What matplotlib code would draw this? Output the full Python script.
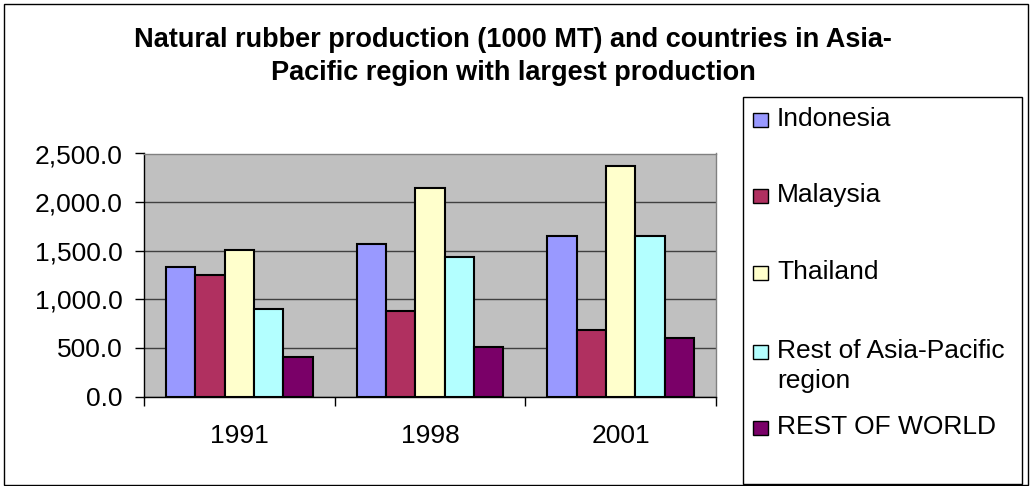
import matplotlib
matplotlib.use('Agg')
import numpy as np
import matplotlib.pyplot as plt
from matplotlib.patches import Rectangle

# ============================= Chart data ===============================
years = ['1991', '1998', '2001']
series_names = ['Indonesia', 'Malaysia', 'Thailand',
                'Rest of Asia-Pacific\nregion', 'REST OF WORLD']
indonesia = [1335, 1570, 1655]
malaysia = [1250, 880, 685]
thailand = [1505, 2150, 2370]
rest_asia_pacific = [900, 1437, 1652]
rest_of_world = [405, 510, 600]
yticks = [0, 500, 1000, 1500, 2000, 2500]

values = [indonesia, malaysia, thailand, rest_asia_pacific, rest_of_world]
colors = ['#9999FF', '#B03060', '#FFFFCC', '#B3FFFF', '#7A0068']

plt.rcParams['font.family'] = ['Liberation Sans', 'DejaVu Sans']

W, H = 1032, 486
fig = plt.figure(figsize=(W / 100, H / 100), dpi=100)

# plot area in pixel coords
left, right, top, bottom = 144, 716, 153.5, 396.5
ax = fig.add_axes([left / W, 1 - bottom / H, (right - left) / W, (bottom - top) / H])
ax.set_facecolor('#C0C0C0')

x = np.arange(len(years))
bar_w = 0.154
for i, (vals, col) in enumerate(zip(values, colors)):
    ax.bar(x + (i - 2) * bar_w, vals, width=bar_w, color=col,
           edgecolor='black', linewidth=1.5, zorder=3)

ax.set_xlim(-0.5, 2.5)
ax.set_ylim(0, 2500)
ax.set_yticks(yticks)
ax.set_yticklabels([f'{v:,.1f}' for v in yticks])
ax.yaxis.grid(True, color='#404040', linewidth=1, zorder=1)

ax.set_xticks(x)
ax.set_xticklabels(years)
ax.set_xticks([-0.5, 0.5, 1.5, 2.5], minor=True)
ax.tick_params(axis='x', which='major', length=0, pad=20, labelsize=19)
ax.tick_params(axis='x', which='minor', length=6.5, width=1, direction='out')
ax.tick_params(axis='y', length=6.5, width=1, pad=9, labelsize=19)

ax.spines['left'].set_color('black')
ax.spines['bottom'].set_color('black')
ax.spines['top'].set_color('#808080')
ax.spines['right'].set_color('#808080')
for sp in ax.spines.values():
    sp.set_linewidth(1)

# title
fig.text(513 / W, 1 - 40 / H, 'Natural rubber production (1000 MT) and countries in Asia-',
         ha='center', va='center', fontsize=19.5, fontweight='bold')
fig.text(513 / W, 1 - 73 / H, 'Pacific region with largest production',
         ha='center', va='center', fontsize=19.5, fontweight='bold')

# outer frame
fig.patches.append(Rectangle((4 / W, 1 - 485 / H), 1024 / W, 481 / H,
                             transform=fig.transFigure, fill=False,
                             edgecolor='black', linewidth=1))

# legend box
fig.patches.append(Rectangle((742.5 / W, 1 - 484 / H), 279.5 / W, 387.5 / H,
                             transform=fig.transFigure, fill=False,
                             edgecolor='black', linewidth=1))
legend_y = [120, 196, 273, 352, 428]
for name, col, ly in zip(series_names, colors, legend_y):
    fig.patches.append(Rectangle((753 / W, 1 - (ly + 7) / H), 15 / W, 14 / H,
                                 transform=fig.transFigure, facecolor=col,
                                 edgecolor='black', linewidth=1))
    fig.text(777 / W, 1 - (ly - 13) / H, name, ha='left', va='top',
             fontsize=19, linespacing=1.3)

fig.savefig('out.png', dpi=100)
